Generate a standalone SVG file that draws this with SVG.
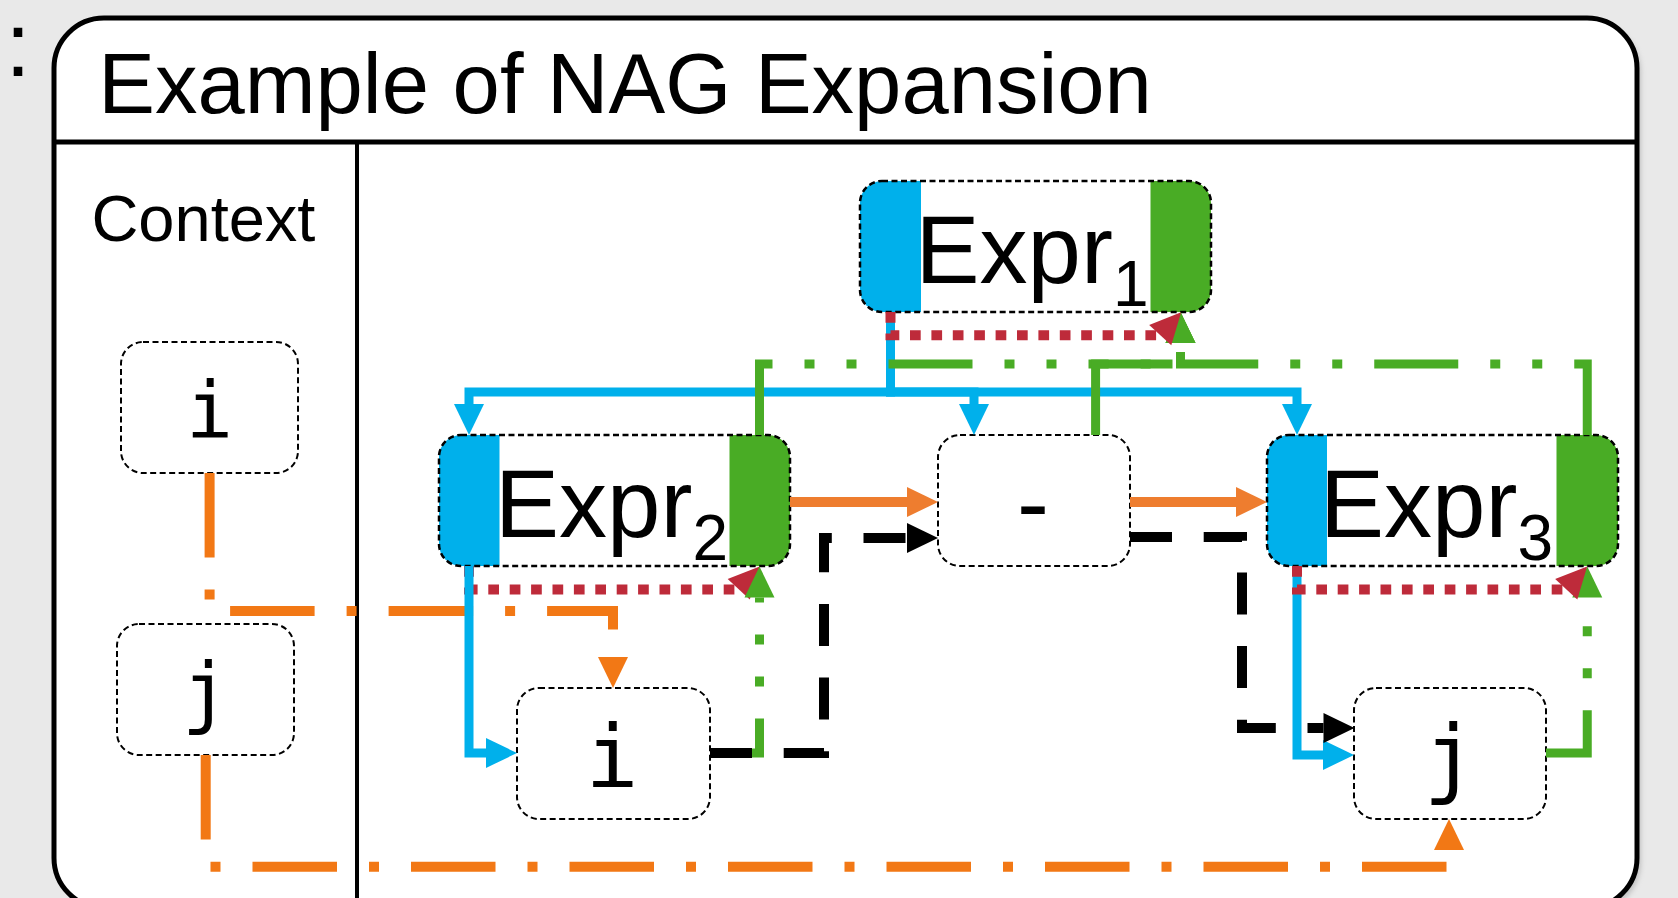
<svg xmlns="http://www.w3.org/2000/svg" width="1678" height="898" viewBox="0 0 1678 898">
  <defs>
    <style>
      .sans { font-family: "Liberation Sans", Arial, sans-serif; fill: #000; }
      .mono { font-family: "DejaVu Sans Mono", "Liberation Mono", monospace; fill: #000; }
      .box { fill: #fff; stroke: none; }
      .edge { fill: none; stroke: #000; stroke-width: 2; stroke-dasharray: 6 3.5; }
      .edge-e { fill: none; stroke: #000; stroke-width: 2.5; stroke-dasharray: 6 3.5; }
      .bar-b { fill: #00B0EB; }
      .bar-g { fill: #49AC25; }
      .c { fill: none; stroke-linecap: butt; stroke-linejoin: miter; }
      .blue { stroke: #00B0EB; stroke-width: 9; marker-end: url(#ah-blue); }
      .green { stroke: #49AC25; stroke-width: 9; stroke-dasharray: 84 32 10 32 10 32; marker-end: url(#ah-green); }
      .red { stroke: #BE2B3A; stroke-width: 10; stroke-dasharray: 10.7 10.7; marker-end: url(#ah-red); }
      .black { stroke: #000; stroke-width: 10; stroke-dasharray: 42 31.7; marker-end: url(#ah-black); }
      .orange { stroke: #EE7D2F; stroke-width: 10; marker-end: url(#ah-orange); }
      .orange-dd { stroke: #F27815; stroke-width: 10; stroke-dasharray: 84.5 32 10 32; marker-end: url(#ah-orange-dd); }
    </style>
    <marker id="ah-blue" markerUnits="userSpaceOnUse" markerWidth="31" markerHeight="30" refX="0" refY="15" orient="auto" overflow="visible"><path d="M0,0 L31,15 L0,30 Z" fill="#00B0EB"/></marker>
    <marker id="ah-green" markerUnits="userSpaceOnUse" markerWidth="31" markerHeight="30" refX="0" refY="15" orient="auto" overflow="visible"><path d="M0,0 L31,15 L0,30 Z" fill="#49AC25"/></marker>
    <marker id="ah-red" markerUnits="userSpaceOnUse" markerWidth="31" markerHeight="30" refX="0" refY="15" orient="auto" overflow="visible"><path d="M0,0 L31,15 L0,30 Z" fill="#BE2B3A"/></marker>
    <marker id="ah-black" markerUnits="userSpaceOnUse" markerWidth="31" markerHeight="30" refX="0" refY="15" orient="auto" overflow="visible"><path d="M0,0 L31,15 L0,30 Z" fill="#000"/></marker>
    <marker id="ah-orange" markerUnits="userSpaceOnUse" markerWidth="31" markerHeight="30" refX="0" refY="15" orient="auto" overflow="visible"><path d="M0,0 L31,15 L0,30 Z" fill="#EE7D2F"/></marker>
    <marker id="ah-orange-dd" markerUnits="userSpaceOnUse" markerWidth="31" markerHeight="30" refX="0" refY="15" orient="auto" overflow="visible"><path d="M0,0 L31,15 L0,30 Z" fill="#F27815"/></marker>
    <filter id="soft" x="-5%" y="-5%" width="110%" height="110%"><feGaussianBlur stdDeviation="2.5"/></filter>
  </defs>

  <!-- page background -->
  <rect x="0" y="0" width="1678" height="898" fill="#E9E9E9"/>

  <!-- panel frame with header -->
  <g id="frame">
    <rect x="58" y="22" width="1583" height="890" rx="50" fill="#9a9a9a" opacity="0.5" filter="url(#soft)"/>
    <rect x="54" y="18" width="1583" height="890" rx="50" fill="#fff" stroke="#000" stroke-width="5"/>
    <line x1="54" y1="142" x2="1637" y2="142" stroke="#000" stroke-width="5"/>
    <line x1="357" y1="142" x2="357" y2="898" stroke="#000" stroke-width="4"/>
    <text class="sans" x="5.5" y="76" font-size="90">:</text>
    <text class="sans" x="98.3" y="112.5" font-size="85">Example of NAG Expansion</text>
    <text class="sans" x="91.4" y="241" font-size="65">Context</text>
  </g>

  <!-- context variables -->
  <g id="ctx-i">
    <rect class="box" x="121" y="342" width="177" height="131" rx="22"/>
    <rect class="edge" x="121" y="342" width="177" height="131" rx="22"/>
    <text class="mono" x="209.5" y="437.5" font-size="78" text-anchor="middle">i</text>
  </g>
  <g id="ctx-j">
    <rect class="box" x="117" y="624" width="177" height="131" rx="22"/>
    <rect class="edge" x="117" y="624" width="177" height="131" rx="22"/>
    <text class="mono" x="205.5" y="719" font-size="78" text-anchor="middle">j</text>
  </g>

  <!-- expression nodes -->
  <g id="expr1">
    <rect class="box" x="860" y="181" width="351" height="131" rx="22"/>
    <path class="bar-b" d="M882,181 H921 V312 H882 A22,22 0 0 1 860,290 V203 A22,22 0 0 1 882,181 Z"/>
    <path class="bar-g" d="M1150.5,181 H1189 A22,22 0 0 1 1211,203 V290 A22,22 0 0 1 1189,312 H1150.5 Z"/>
    <rect class="edge-e" x="860" y="181" width="351" height="131" rx="22"/>
    <text class="sans" x="915.5" y="283" font-size="96">Expr<tspan dy="22.5" font-size="64">1</tspan></text>
  </g>
  <g id="expr2">
    <rect class="box" x="439" y="435" width="351" height="131" rx="22"/>
    <path class="bar-b" d="M461,435 H499.5 V566 H461 A22,22 0 0 1 439,544 V457 A22,22 0 0 1 461,435 Z"/>
    <path class="bar-g" d="M729.5,435 H768 A22,22 0 0 1 790,457 V544 A22,22 0 0 1 768,566 H729.5 Z"/>
    <rect class="edge-e" x="439" y="435" width="351" height="131" rx="22"/>
    <text class="sans" x="495" y="537" font-size="96">Expr<tspan dy="22.5" font-size="64">2</tspan></text>
  </g>
  <g id="minus">
    <rect class="box" x="938" y="435" width="192" height="131" rx="22"/>
    <rect class="edge" x="938" y="435" width="192" height="131" rx="22"/>
    <text class="sans" x="1033" y="536" font-size="96" text-anchor="middle">-</text>
  </g>
  <g id="expr3">
    <rect class="box" x="1267" y="435" width="351" height="131" rx="22"/>
    <path class="bar-b" d="M1289,435 H1327 V566 H1289 A22,22 0 0 1 1267,544 V457 A22,22 0 0 1 1289,435 Z"/>
    <path class="bar-g" d="M1556.5,435 H1596 A22,22 0 0 1 1618,457 V544 A22,22 0 0 1 1596,566 H1556.5 Z"/>
    <rect class="edge-e" x="1267" y="435" width="351" height="131" rx="22"/>
    <text class="sans" x="1320" y="537" font-size="96">Expr<tspan dy="22.5" font-size="64">3</tspan></text>
  </g>

  <!-- leaf variables -->
  <g id="var-i">
    <rect class="box" x="517" y="688" width="193" height="131" rx="22"/>
    <rect class="edge" x="517" y="688" width="193" height="131" rx="22"/>
    <text class="mono" x="612" y="786.5" font-size="88" text-anchor="middle">i</text>
  </g>
  <g id="var-j">
    <rect class="box" x="1354" y="688" width="192" height="131" rx="22"/>
    <rect class="edge" x="1354" y="688" width="192" height="131" rx="22"/>
    <text class="mono" x="1450" y="786.5" font-size="88" text-anchor="middle">j</text>
  </g>

  <!-- connectors -->
  <g id="connectors">
    <!-- context bindings -->
    <path class="c orange-dd" d="M209.6,473 V611 H613 V657"/>
    <path class="c orange-dd" d="M205.7,755 V866.7 H1449 V850"/>
    <!-- Expr2 inner link (under the tree edges) -->
    <path class="c red" d="M469,566 V589.5 H738.5 l0.22,-0.24"/>
    <!-- tree edges -->
    <path class="c blue" d="M890.5,312 V392 H469 V404"/>
    <path class="c blue" d="M890.5,312 V392 H974 V404"/>
    <path class="c blue" d="M890.5,312 V392 H1297 V404"/>
    <path class="c blue" d="M469,566 V753 H486"/>
    <path class="c blue" d="M1297,566 V755 H1323"/>
    <!-- upward links -->
    <path class="c green" d="M759.5,435 V364 H1180.5 V343"/>
    <path class="c green" d="M1095.6,435 V364 H1180.5 V343"/>
    <path class="c green" d="M1587.25,435 V364 H1180.5 V343"/>
    <path class="c green" d="M710,753 H759.5 V597.5"/>
    <path class="c green" d="M1546,753 H1587.25 V597.5"/>
    <!-- inner links -->
    <path class="c red" d="M890.5,312 V335.3 H1160 l0.22,-0.24"/>
    <path class="c red" d="M1297,566 V589.5 H1566 l0.22,-0.24"/>
    <!-- ordering links -->
    <path class="c black" d="M710,753 H824 V538 H907"/>
    <path class="c black" d="M1130,537 H1242 V728 H1323.5"/>
    <path class="c orange" d="M790,502 H907"/>
    <path class="c orange" d="M1130,502 H1236"/>
  </g>
</svg>
